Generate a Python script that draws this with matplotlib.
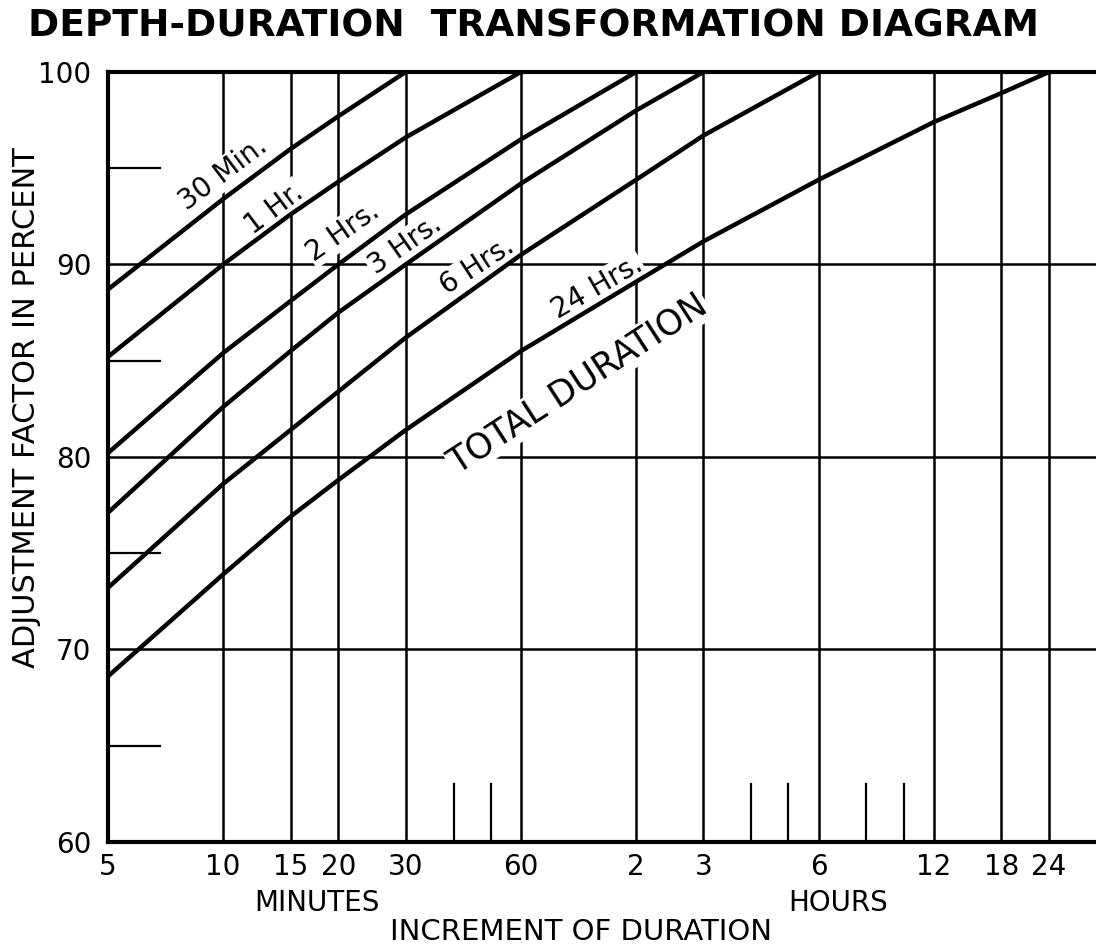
import matplotlib.pyplot as plt
import numpy as np

# increment of duration (minutes) and adjustment factor (%) for each total duration
mins_30m = [5, 10, 15, 20, 30]
pct_30m = [88.7, 93.4, 96.0, 97.7, 100]

mins_1h = [5, 10, 15, 20, 30, 60]
pct_1h = [85.2, 90.0, 92.6, 94.3, 96.6, 100]

mins_2h = [5, 10, 15, 20, 30, 60, 120]
pct_2h = [80.2, 85.4, 88.1, 90.0, 92.6, 96.5, 100]

mins_3h = [5, 10, 15, 20, 30, 60, 120, 180]
pct_3h = [77.1, 82.6, 85.5, 87.5, 90.0, 94.2, 98.0, 100]

mins_6h = [5, 10, 15, 20, 30, 60, 120, 180, 360]
pct_6h = [73.2, 78.6, 81.4, 83.4, 86.2, 90.5, 94.4, 96.7, 100]

mins_24h = [5, 10, 15, 20, 30, 60, 120, 180, 360, 720, 1080, 1440]
pct_24h = [68.6, 73.9, 76.9, 78.8, 81.4, 85.5, 89.1, 91.2, 94.4, 97.4, 98.9, 100]

curve_names = ["30 Min.", "1 Hr.", "2 Hrs.", "3 Hrs.", "6 Hrs.", "24 Hrs."]

tick_mins = [5, 10, 15, 20, 30, 60, 120, 180, 360, 720, 1080, 1440]
tick_labels = ["5", "10", "15", "20", "30", "60", "2", "3", "6", "12", "18", "24"]
short_ticks = [40, 50, 240, 300, 480, 600]
y_grid = [70, 80, 90]
y_short = [65, 75, 85, 95]

fig = plt.figure(figsize=(10.96, 9.47), dpi=100)
ax = fig.add_axes([0.0985, 0.111, 0.9015, 0.813])
ax.set_xscale("log")
ax.set_xlim(5, 1910)
ax.set_ylim(60, 100)

# grid
for m in tick_mins[1:]:
    ax.axvline(m, color="black", lw=1.8, zorder=1)
for m in short_ticks:
    ax.axvline(m, ymin=0, ymax=0.075, color="black", lw=1.6, zorder=1)
for v in y_grid:
    ax.axhline(v, color="black", lw=1.8, zorder=1)
ax.axhline(100, color="black", lw=3, zorder=1, clip_on=False)
for v in y_short:
    ax.axhline(v, xmin=0, xmax=0.053, color="black", lw=1.6, zorder=1)

for s in ["top", "right"]:
    ax.spines[s].set_visible(False)
for s in ["left", "bottom"]:
    ax.spines[s].set_linewidth(3)

# curves
series = [(mins_30m, pct_30m), (mins_1h, pct_1h), (mins_2h, pct_2h),
          (mins_3h, pct_3h), (mins_6h, pct_6h), (mins_24h, pct_24h)]
for xs, ys in series:
    ax.plot(xs, ys, color="black", lw=3.2, zorder=5, solid_capstyle="round")

# curve labels (x in minutes, y in %, rotation)
label_pos = [(10.0, 94.7, 37), (13.6, 92.9, 37), (20.6, 91.7, 35),
             (29.9, 91.0, 35), (46, 89.9, 33), (94.9, 88.8, 30)]
for name, (lx, ly, rot) in zip(curve_names, label_pos):
    ax.text(lx, ly, name, fontsize=20, rotation=rot, rotation_mode="anchor",
            ha="center", va="center", zorder=4,
            bbox=dict(facecolor="white", edgecolor="none", pad=1))
ax.text(84.6, 83.8, "TOTAL DURATION", fontsize=25, rotation=33,
        rotation_mode="anchor", ha="center", va="center", zorder=4,
        bbox=dict(facecolor="white", edgecolor="none", pad=1))

# axes labels and ticks
ax.set_xticks(tick_mins)
ax.set_xticklabels(tick_labels, fontsize=20)
ax.xaxis.set_minor_locator(plt.NullLocator())
ax.set_yticks([60, 70, 80, 90, 100])
ax.set_yticklabels(["60", "70", "80", "90", "100"], fontsize=20)
ax.tick_params(length=0, pad=8)
ax.tick_params(axis="y", pad=12)

fig.text(0.289, 0.046, "MINUTES", fontsize=20, ha="center", va="center")
fig.text(0.765, 0.046, "HOURS", fontsize=20, ha="center", va="center")
fig.text(0.53, 0.016, "INCREMENT OF DURATION", fontsize=21, ha="center", va="center")
fig.text(0.024, 0.57, "ADJUSTMENT FACTOR IN PERCENT", fontsize=22,
         rotation=90, ha="center", va="center")
fig.text(0.487, 0.972, "DEPTH-DURATION  TRANSFORMATION DIAGRAM", fontsize=27,
         fontweight="bold", ha="center", va="center")

fig.savefig("out.png", dpi=100)
